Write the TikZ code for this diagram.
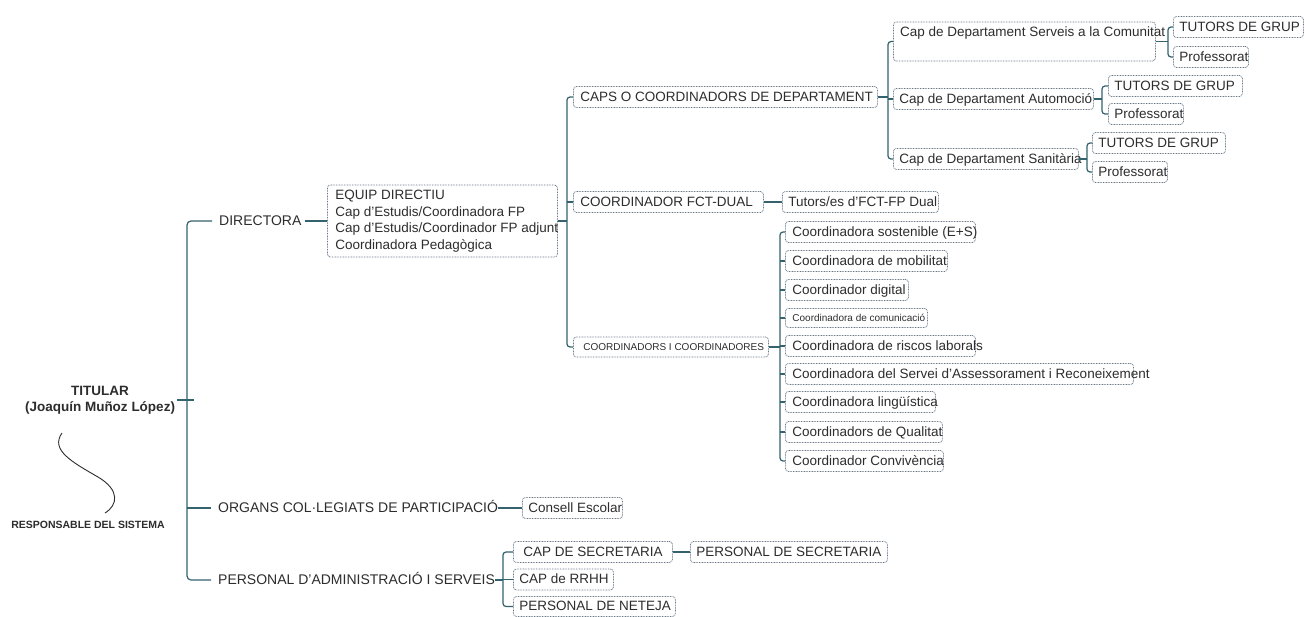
\documentclass[tikz,border=0pt]{standalone}
\usepackage{fontspec}
\setmainfont{Liberation Sans}
\definecolor{lin}{RGB}{52,98,110}
\definecolor{bord}{RGB}{105,120,135}
\definecolor{txt}{RGB}{45,45,45}
\newcommand\mybx[3][6]{\makebox[#2pt][l]{\hspace{#1pt}#3}}
\tikzset{
  conn/.style={draw=lin, line width=1.2pt},
  tbase/.style={draw=bord, line width=0.8pt, dash pattern=on 0.8pt off 0.8pt,
    rounded corners=3pt, inner sep=0pt, anchor=west, text=txt,
    font=\fontsize{13.5}{16.5}\selectfont},
  tb/.style={tbase, minimum height=21pt, text height=9.5pt, text depth=1pt},
  plain/.style={inner sep=0pt, anchor=west, text=txt, text height=9.5pt, text depth=1pt,
    font=\fontsize{14}{16.5}\selectfont},
}
\begin{document}
\begin{tikzpicture}[x=1pt,y=-1pt]
\useasboundingbox (0,0) rectangle (1305,617);
\fill[white] (0,0) rectangle (1305,617);

% ---- root
\node[align=center, inner sep=2pt, text=txt, font=\bfseries\fontsize{13.5}{16}\selectfont] (tit) at (100,400) {TITULAR\\(Joaquín Muñoz López)};
\node[inner sep=0pt, text=txt, font=\bfseries\fontsize{10.5}{12}\selectfont] (resp) at (88,525) {RESPONSABLE DEL SISTEMA};
\draw[txt, line width=0.9pt] (62,433) .. controls (50,450) and (72,462) .. (98,477) .. controls (120,490) and (118,505) .. (105,513);

\coordinate (sp) at (194,400);
\node[plain] (dir) at (219,221) {DIRECTORA};
\node[plain] (org) at (218,508) {ORGANS COL·LEGIATS DE PARTICIPACIÓ};
\node[plain] (adm) at (218,580) {PERSONAL D’ADMINISTRACIÓ I SERVEIS};

\draw[conn] (tit.east) -- (tit.east -| sp);
\draw[conn, rounded corners=4pt] ([xshift=-7pt]dir.west) -- ([xshift=-7pt]dir.west -| sp) -- ([xshift=-7pt]adm.west -| sp) -- ([xshift=-7pt]adm.west);
\draw[conn] ([xshift=-7pt]org.west) -- ([xshift=-7pt]org.west -| sp);

% ---- equip directiu
\node[tbase, minimum height=72pt] (equip) at (327,221) {\mybx[8]{230}{\begin{tabular}{@{}l@{}}EQUIP DIRECTIU\\Cap d’Estudis/Coordinadora FP\\Cap d’Estudis/Coordinador FP adjunt\\Coordinadora Pedagògica\end{tabular}}};
\draw[conn] ([xshift=3pt]dir.east) -- (equip.west);

\coordinate (v2) at (567,221);
\node[tb] (caps) at (573,97) {\mybx[7]{304}{CAPS O COORDINADORS DE DEPARTAMENT}};
\node[tb] (fct) at (573,202) {\mybx[7]{190}{COORDINADOR FCT-DUAL}};
\node[tb, minimum height=20pt, font=\fontsize{10}{12}\selectfont, text height=7.5pt] (cc) at (573,347) {\mybx[10]{195}{COORDINADORS I COORDINADORES}};
\draw[conn] (equip.east) -- (equip.east -| v2);
\draw[conn, rounded corners=3pt] (caps.west) -- (caps.west -| v2) -- (cc.west -| v2) -- (cc.west);
\draw[conn] (fct.west) -- (fct.west -| v2);

% ---- caps de departament
\coordinate (v3) at (888,97);
\node[tbase, minimum width=262pt, minimum height=39pt] (serv) at (893,41.5) {};
\node[plain, font=\fontsize{13.5}{16.5}\selectfont] (servt) at (900,32) {Cap de Departament Serveis a la Comunitat};
\node[tb] (auto) at (893,99) {\mybx{200}{Cap de Departament Automoció}};
\node[tb] (sani) at (893,159) {\mybx{185}{Cap de Departament Sanitària}};
\draw[conn] (caps.east) -- (caps.east -| v3);
\draw[conn, rounded corners=3pt] (serv.west) -- (serv.west -| v3) -- (sani.west -| v3) -- (sani.west);
\draw[conn] (auto.west) -- (auto.west -| v3);

\coordinate (v4) at (1168,42);
\node[tb] (t1) at (1173,27) {\mybx{130}{TUTORS DE GRUP}};
\node[tb] (p1) at (1173,57) {\mybx{75}{Professorat}};
\draw[conn] (serv.east) -- (serv.east -| v4);
\draw[conn, rounded corners=3pt] (t1.west) -- (t1.west -| v4) -- (p1.west -| v4) -- (p1.west);

\coordinate (v5) at (1102,99);
\node[tb] (t2) at (1108,86) {\mybx{134}{TUTORS DE GRUP}};
\node[tb] (p2) at (1108,114) {\mybx{75}{Professorat}};
\draw[conn] (auto.east) -- (auto.east -| v5);
\draw[conn, rounded corners=3pt] (t2.west) -- (t2.west -| v5) -- (p2.west -| v5) -- (p2.west);

\coordinate (v6) at (1087,159);
\node[tb] (t3) at (1092,143) {\mybx{133}{TUTORS DE GRUP}};
\node[tb] (p3) at (1092,172) {\mybx{75}{Professorat}};
\draw[conn] (sani.east) -- (sani.east -| v6);
\draw[conn, rounded corners=3pt] (t3.west) -- (t3.west -| v6) -- (p3.west -| v6) -- (p3.west);

% ---- FCT
\node[tb] (tut) at (782,202) {\mybx{156}{Tutors/es d’FCT-FP Dual}};
\draw[conn] (fct.east) -- (tut.west);

% ---- coordinadors
\coordinate (v7) at (780,347);
\node[tb] (c1) at (785,232) {\mybx[7]{190}{Coordinadora sostenible (E+S)}};
\node[tb] (c2) at (785,261) {\mybx[7]{162}{Coordinadora de mobilitat}};
\node[tb] (c3) at (785,290) {\mybx[7]{123}{Coordinador digital}};
\node[tb, minimum height=19pt, font=\fontsize{10}{12}\selectfont, text height=7.5pt] (c4) at (785,318) {\mybx[7]{142}{Coordinadora de comunicació}};
\node[tb] (c5) at (785,346) {\mybx[7]{190}{Coordinadora de riscos laborals}};
\node[tb] (c6) at (785,374) {\mybx[7]{348}{Coordinadora del Servei d’Assessorament i Reconeixement}};
\node[tb] (c7) at (785,402) {\mybx[7]{150}{Coordinadora lingüística}};
\node[tb] (c8) at (785,432) {\mybx[7]{157}{Coordinadors de Qualitat}};
\node[tb] (c9) at (785,461) {\mybx[7]{158}{Coordinador Convivència}};
\draw[conn] (cc.east) -- (cc.east -| v7);
\draw[conn, rounded corners=3pt] (c1.west) -- (c1.west -| v7) -- (c9.west -| v7) -- (c9.west);
\foreach \n in {c2,c3,c4,c5,c6,c7,c8} {\draw[conn] (\n.west) -- (\n.west -| v7);}

% ---- organs
\node[tb] (cons) at (522,508) {\mybx{100}{Consell Escolar}};
\draw[conn] (org.east) -- (cons.west);

% ---- personal
\coordinate (v8) at (503,580);
\node[tb] (sec) at (513,552) {\mybx[10]{159}{CAP DE SECRETARIA}};
\node[tb] (psec) at (690,552) {\mybx{197}{PERSONAL DE SECRETARIA}};
\node[tb] (rrhh) at (513,579.5) {\mybx{100}{CAP de RRHH}};
\node[tb, minimum height=20pt] (net) at (513,606.5) {\mybx{162}{PERSONAL DE NETEJA}};
\draw[conn] (adm.east) -- (adm.east -| v8);
\draw[conn, rounded corners=3pt] (sec.west) -- (sec.west -| v8) -- (net.west -| v8) -- (net.west);
\draw[conn] (rrhh.west) -- (rrhh.west -| v8);
\draw[conn] (sec.east) -- (psec.west);
\end{tikzpicture}
\end{document}
